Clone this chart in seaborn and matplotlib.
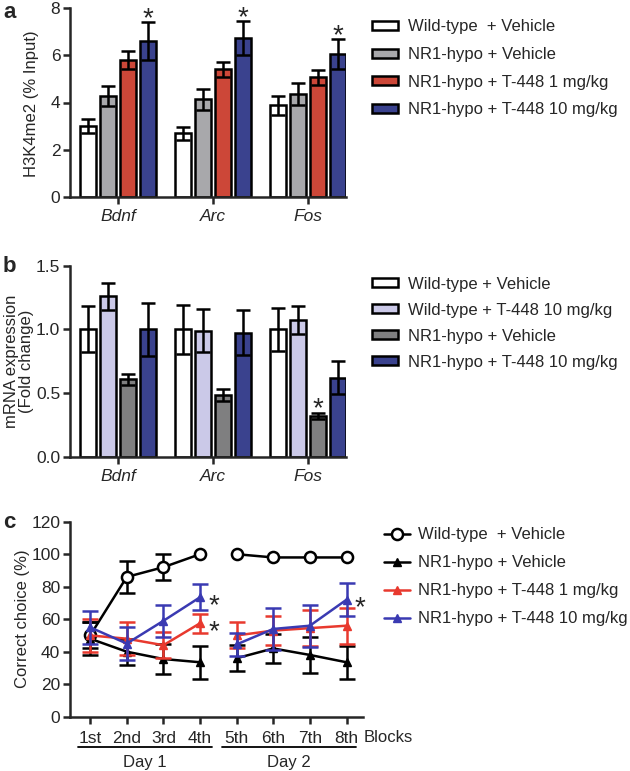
import numpy as np
import pandas as pd
import matplotlib
matplotlib.use("Agg")
import matplotlib.pyplot as plt
import matplotlib.transforms as mtransforms
from matplotlib.container import BarContainer
import seaborn as sns

sns.set_style("ticks")
plt.rcParams['font.family'] = ['Liberation Sans', 'DejaVu Sans']

# ---------------- data ----------------
genes = ["Bdnf", "Arc", "Fos"]

a_groups = ["Wild-type  + Vehicle", "NR1-hypo + Vehicle",
            "NR1-hypo + T-448 1 mg/kg", "NR1-hypo + T-448 10 mg/kg"]
a_colors = ["#ffffff", "#a7a8ab", "#e5331f", "#2c379c"]
a_means = [[3.0, 2.69, 3.88],
           [4.28, 4.13, 4.36],
           [5.8, 5.41, 5.07],
           [6.6, 6.73, 6.06]]
a_errs = [[0.3, 0.28, 0.4],
          [0.42, 0.44, 0.48],
          [0.38, 0.31, 0.31],
          [0.8, 0.73, 0.64]]

b_groups = ["Wild-type + Vehicle", "Wild-type + T-448 10 mg/kg",
            "NR1-hypo + Vehicle", "NR1-hypo + T-448 10 mg/kg"]
b_colors = ["#ffffff", "#c6c4ed", "#7f7f80", "#2c379c"]
b_means = [[1.0, 1.0, 1.0],
           [1.26, 0.99, 1.07],
           [0.607, 0.484, 0.32],
           [1.0, 0.975, 0.62]]
b_errs = [[0.18, 0.19, 0.17],
          [0.105, 0.17, 0.11],
          [0.04, 0.045, 0.025],
          [0.21, 0.18, 0.13]]

blocks = ["1st", "2nd", "3rd", "4th", "5th", "6th", "7th", "8th"]
c_groups = ["Wild-type  + Vehicle", "NR1-hypo + Vehicle",
            "NR1-hypo + T-448 1 mg/kg", "NR1-hypo + T-448 10 mg/kg"]
c_colors = ["#000000", "#000000", "#e8392e", "#3a3ab2"]
c_means = [[50, 86, 92, 100, 100, 98, 98, 98],
           [48, 40, 35.5, 33.5, 36, 42, 38, 33.5],
           [50, 48, 44, 57.5, 50, 53, 54.5, 56],
           [55, 45, 59, 73.5, 44.5, 54, 56, 72]]
c_errs = [[8, 10, 8, 0, 0, 0, 0, 0],
          [10, 8, 9, 10, 8, 9, 11, 10],
          [10, 10, 8, 6, 8, 9, 11, 11],
          [10, 10, 10, 8, 7, 13, 13, 10]]

FS = 12
TFS = 12.5
AST = 20
LW = 1.8

fig = plt.figure(figsize=(6.3, 7.71), dpi=100)
W, H = 630, 771


def axes_px(left, top, right, bottom):
    return fig.add_axes([left / W, 1 - bottom / H, (right - left) / W, (bottom - top) / H])


def style_ax(ax):
    sns.despine(ax=ax)
    for s in ("left", "bottom"):
        ax.spines[s].set_linewidth(LW)
    ax.tick_params(width=LW, length=5, labelsize=TFS, direction="out")
    ax.tick_params(axis="y", pad=2)


def star_above(ax, x, y, dy_pt):
    ax.annotate("*", xy=(x, y), xytext=(0, dy_pt), textcoords="offset points",
                ha="center", va="baseline", fontsize=AST, annotation_clip=False)


def bar_panel(ax, groups, colors, means, errs):
    df = pd.DataFrame({
        "gene": np.tile(genes, len(groups)),
        "group": np.repeat(groups, len(genes)),
        "value": np.concatenate(means),
    })
    sns.barplot(data=df, x="gene", y="value", hue="group", hue_order=groups,
                order=genes, palette=colors, edgecolor="black", linewidth=LW,
                width=0.84, gap=0.22, errorbar=None, ax=ax, legend=True)
    bar_conts = [c for c in ax.containers if isinstance(c, BarContainer)]
    centers = []
    for ci, cont in enumerate(bar_conts):
        xs = [p.get_x() + p.get_width() / 2 for p in cont.patches]
        hs = [p.get_height() for p in cont.patches]
        ax.errorbar(xs, hs, yerr=errs[ci], fmt="none", ecolor="black",
                    elinewidth=LW, capsize=5, capthick=LW, zorder=5)
        centers.append(xs)
    return centers


def bar_legend(ax, top_px, spacing):
    ax.legend(loc="upper left", bbox_to_anchor=(372 / W, 1 - top_px / H),
              bbox_transform=fig.transFigure, frameon=False, fontsize=FS,
              handlelength=1.56, handleheight=0.45, handletextpad=0.6,
              labelspacing=spacing, borderpad=0, borderaxespad=0)


# ---------------- panel a ----------------
axa = axes_px(70, 8, 346, 197)
cent_a = bar_panel(axa, a_groups, a_colors, a_means, a_errs)
axa.set_xlim(-0.505, 2.4)
axa.set_ylim(0, 8)
axa.set_yticks([0, 2, 4, 6, 8])
axa.set_xlabel("")
axa.set_ylabel("")
style_ax(axa)
for lab in axa.get_xticklabels():
    lab.set_fontstyle("italic")
for gi in range(3):
    star_above(axa, cent_a[3][gi], a_means[3][gi] + a_errs[3][gi], -3)
bar_legend(axa, 19.5, 0.75)
fig.text(32 / W, 1 - 104 / H, "H3K4me2 (% Input)", rotation=90, ha="center",
         va="center", fontsize=FS)
fig.text(3 / W, 1 - 12 / H, "a", fontsize=16, fontweight="bold", va="center")

# ---------------- panel b ----------------
axb = axes_px(70, 265.7, 346, 456.7)
cent_b = bar_panel(axb, b_groups, b_colors, b_means, b_errs)
axb.set_xlim(-0.505, 2.4)
axb.set_ylim(0, 1.5)
axb.set_yticks([0.0, 0.5, 1.0, 1.5])
axb.set_yticklabels(["0.0", "0.5", "1.0", "1.5"])
axb.set_xlabel("")
axb.set_ylabel("")
style_ax(axb)
for lab in axb.get_xticklabels():
    lab.set_fontstyle("italic")
star_above(axb, cent_b[2][2], b_means[2][2] + b_errs[2][2], -2.5)
bar_legend(axb, 276.5, 0.66)
fig.text(19 / W, 1 - 361 / H, "mRNA expression\n(Fold change)", rotation=90,
         ha="center", va="center", fontsize=FS, linespacing=0.95,
         multialignment="center")
fig.text(3 / W, 1 - 266 / H, "b", fontsize=16, fontweight="bold", va="center")

# ---------------- panel c ----------------
axc = axes_px(70, 521.7, 363, 716.7)
xpos = np.arange(len(blocks))
days = [slice(0, 4), slice(4, 8)]
for gi, g in enumerate(c_groups):
    col = c_colors[gi]
    if gi == 0:
        mk = dict(marker="o", markersize=8, markerfacecolor="white",
                  markeredgecolor=col, markeredgewidth=LW)
    else:
        mk = dict(marker="^", markersize=6, markerfacecolor=col,
                  markeredgecolor=col, markeredgewidth=1)
    m = np.array(c_means[gi], dtype=float)
    e = np.array(c_errs[gi], dtype=float)
    for di, sl in enumerate(days):
        xs, ms, es = xpos[sl], m[sl], e[sl]
        keep = es > 0
        if keep.any():
            axc.errorbar(xs[keep], ms[keep], yerr=es[keep], fmt="none",
                         ecolor=col, elinewidth=LW, capsize=6, capthick=LW,
                         zorder=2 + gi)
        sns.lineplot(x=xs, y=ms, color=col, linewidth=LW, ax=axc,
                     label=g if di == 0 else None, zorder=3 + gi, **mk)
axc.set_xlim(-0.55, 7.45)
axc.set_ylim(0, 120)
axc.set_yticks(np.arange(0, 121, 20))
axc.set_xticks(xpos)
axc.set_xticklabels(blocks)
style_ax(axc)
axc.tick_params(axis="x", pad=5)
for (gi, bi) in [(3, 3), (2, 3), (3, 7)]:
    axc.annotate("*", xy=(xpos[bi], c_means[gi][bi]), xytext=(6, -11.5),
                 textcoords="offset points", ha="left", va="baseline",
                 fontsize=AST, annotation_clip=False)
trans = mtransforms.blended_transform_factory(axc.transData, axc.transAxes)
for x0, x1, lab in [(-0.33, 3.34, "Day 1"), (3.61, 7.26, "Day 2")]:
    axc.plot([x0, x1], [-0.155, -0.155], color="black", lw=1.3,
             transform=trans, clip_on=False)
    axc.text((x0 + x1) / 2, -0.235, lab, transform=trans, ha="center",
             va="center", fontsize=FS)
axc.text(7.47, -0.105, "Blocks", transform=trans, ha="left", va="center",
         fontsize=FS)
axc.legend(loc="upper left", bbox_to_anchor=(384 / W, 1 - 527.5 / H),
           bbox_transform=fig.transFigure, frameon=False, fontsize=FS,
           handlelength=1.56, handletextpad=0.48, labelspacing=0.78,
           borderpad=0, borderaxespad=0)
fig.text(23 / W, 1 - 619 / H, "Correct choice (%)", rotation=90, ha="center",
         va="center", fontsize=FS)
fig.text(3 / W, 1 - 522 / H, "c", fontsize=16, fontweight="bold", va="center")

fig.savefig("out.png", dpi=100)
